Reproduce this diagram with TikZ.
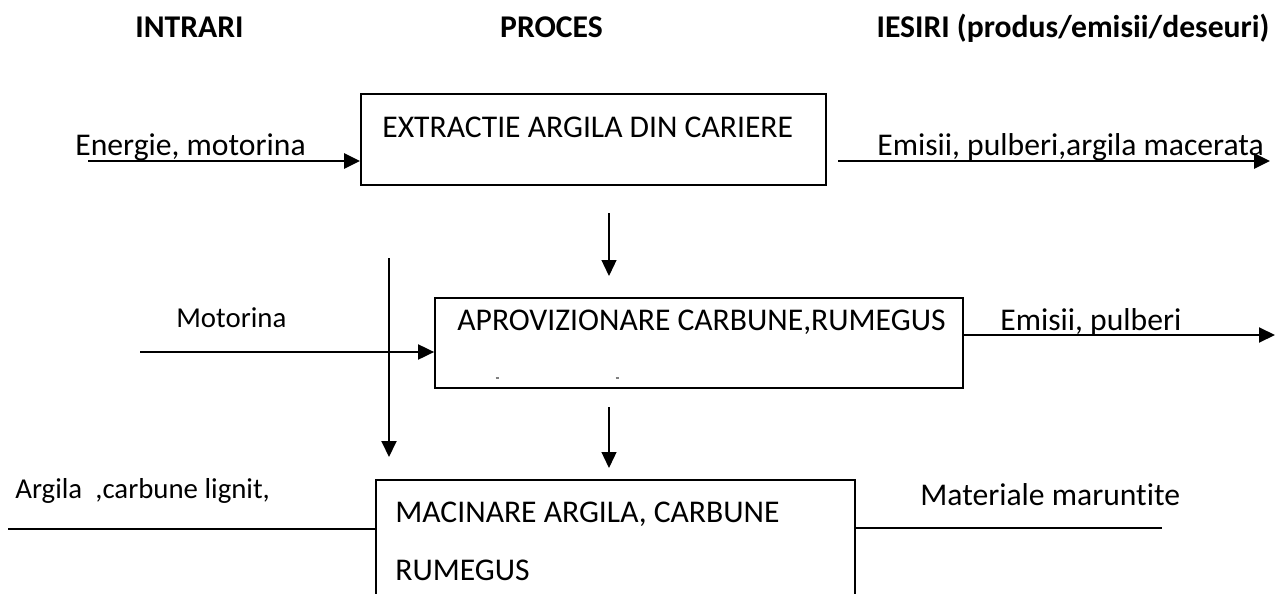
\documentclass[tikz,border=0pt]{standalone}
\usepackage{fontspec}
\setmainfont{Carlito}[Ligatures={NoCommon}]
\usetikzlibrary{arrows.meta}

\begin{document}
\begin{tikzpicture}[
        box/.style={draw, line width=1pt, inner sep=0pt},
        txt/.style={anchor=base west, inner sep=0pt, font=\fontsize{18}{22}\selectfont},
        smalltxt/.style={anchor=base west, inner sep=0pt, font=\fontsize{16.4}{20}\selectfont},
        head/.style={anchor=base, inner sep=0pt, font=\fontsize{18}{22}\selectfont\bfseries},
        bigarrow/.style={line width=1.5pt, -{Triangle[length=0.32cm, width=0.30cm]}},
        midarrow/.style={line width=1.1pt, -{Triangle[length=0.32cm, width=0.30cm]}},
        thinarrow/.style={line width=0.75pt, -{Triangle[length=0.32cm, width=0.30cm]}},
        flow/.style={line width=1pt}
    ]
        \useasboundingbox (0, 0) rectangle (25.54, -11.86);
        \clip (0, 0) rectangle (25.54, -11.86);
        % column headers
        \node (hin) at (3.79, -0.74) [head] {INTRARI};
        \node (hproc) at (11.03, -0.74) [head] {PROCES};
        \node (hout) at (21.46, -0.74) [head] {IESIRI (produs/emisii/deseuri)};
        % process boxes
        \node (extr) at (11.87, -2.79) [box, minimum width=9.30cm, minimum height=1.82cm] {};
        \node (extrtxt) at (7.64, -2.74) [txt] {EXTRACTIE ARGILA DIN CARIERE};
        \node (aprov) at (13.98, -6.86) [box, minimum width=10.56cm, minimum height=1.80cm] {};
        \node (aprovtxt) at (9.14, -6.60) [txt] {APROVIZIONARE CARBUNE,RUMEGUS};
        \draw[line width=0.6pt, gray] (9.91, -7.56) -- (9.97, -7.56);
        \draw[line width=0.6pt, gray] (12.31, -7.56) -- (12.37, -7.56);
        \node (macin) at (12.31, -10.90) [box, minimum width=9.58cm, minimum height=2.60cm] {};
        \node (macintxt) at (7.90, -10.44) [txt] {MACINARE ARGILA, CARBUNE};
        \node (macintxtb) at (7.90, -11.60) [txt] {RUMEGUS};
        % inputs and outputs
        \node (lenerg) at (1.50, -3.10) [txt] {Energie, motorina};
        \node (lemis) at (17.54, -3.10) [txt] {Emisii, pulberi,argila macerata};
        \node (lmot) at (3.52, -6.54) [smalltxt] {Motorina};
        \node (lemisb) at (20.00, -6.60) [txt] {Emisii, pulberi};
        \node (larg) at (0.30, -9.96) [smalltxt] {Argila\ \ ,carbune lignit,};
        \node (lmat) at (18.40, -10.10) [txt] {Materiale maruntite};
        % free ends
        \coordinate (e1) at (1.76, -3.22);
        \coordinate (o1a) at (16.76, -3.22);
        \coordinate (o1b) at (25.40, -3.22);
        \coordinate (d1a) at (12.18, -4.26);
        \coordinate (d1b) at (12.18, -5.52);
        \coordinate (m1) at (2.80, -7.04);
        \coordinate (v1a) at (7.78, -5.16);
        \coordinate (v1b) at (7.78, -9.14);
        \coordinate (o2) at (25.50, -6.70);
        \coordinate (d2a) at (12.18, -8.14);
        \coordinate (d2b) at (12.18, -9.36);
        \coordinate (a1) at (0.16, -10.58);
        \coordinate (o3) at (23.24, -10.56);
        % connectors
        \draw[bigarrow] (e1) -- (e1 -| extr.west);
        \draw[bigarrow] (o1a) -- (o1b);
        \draw[thinarrow] (d1a) -- (d1b);
        \draw[midarrow] (m1) -- (m1 -| aprov.west);
        \draw[midarrow] (v1a) -- (v1b);
        \draw[midarrow] (o2 -| aprov.east) -- (o2);
        \draw[thinarrow] (d2a) -- (d2b);
        \draw[flow] (a1) -- (a1 -| macin.west);
        \draw[flow] (o3 -| macin.east) -- (o3);
    \end{tikzpicture}
\end{document}
